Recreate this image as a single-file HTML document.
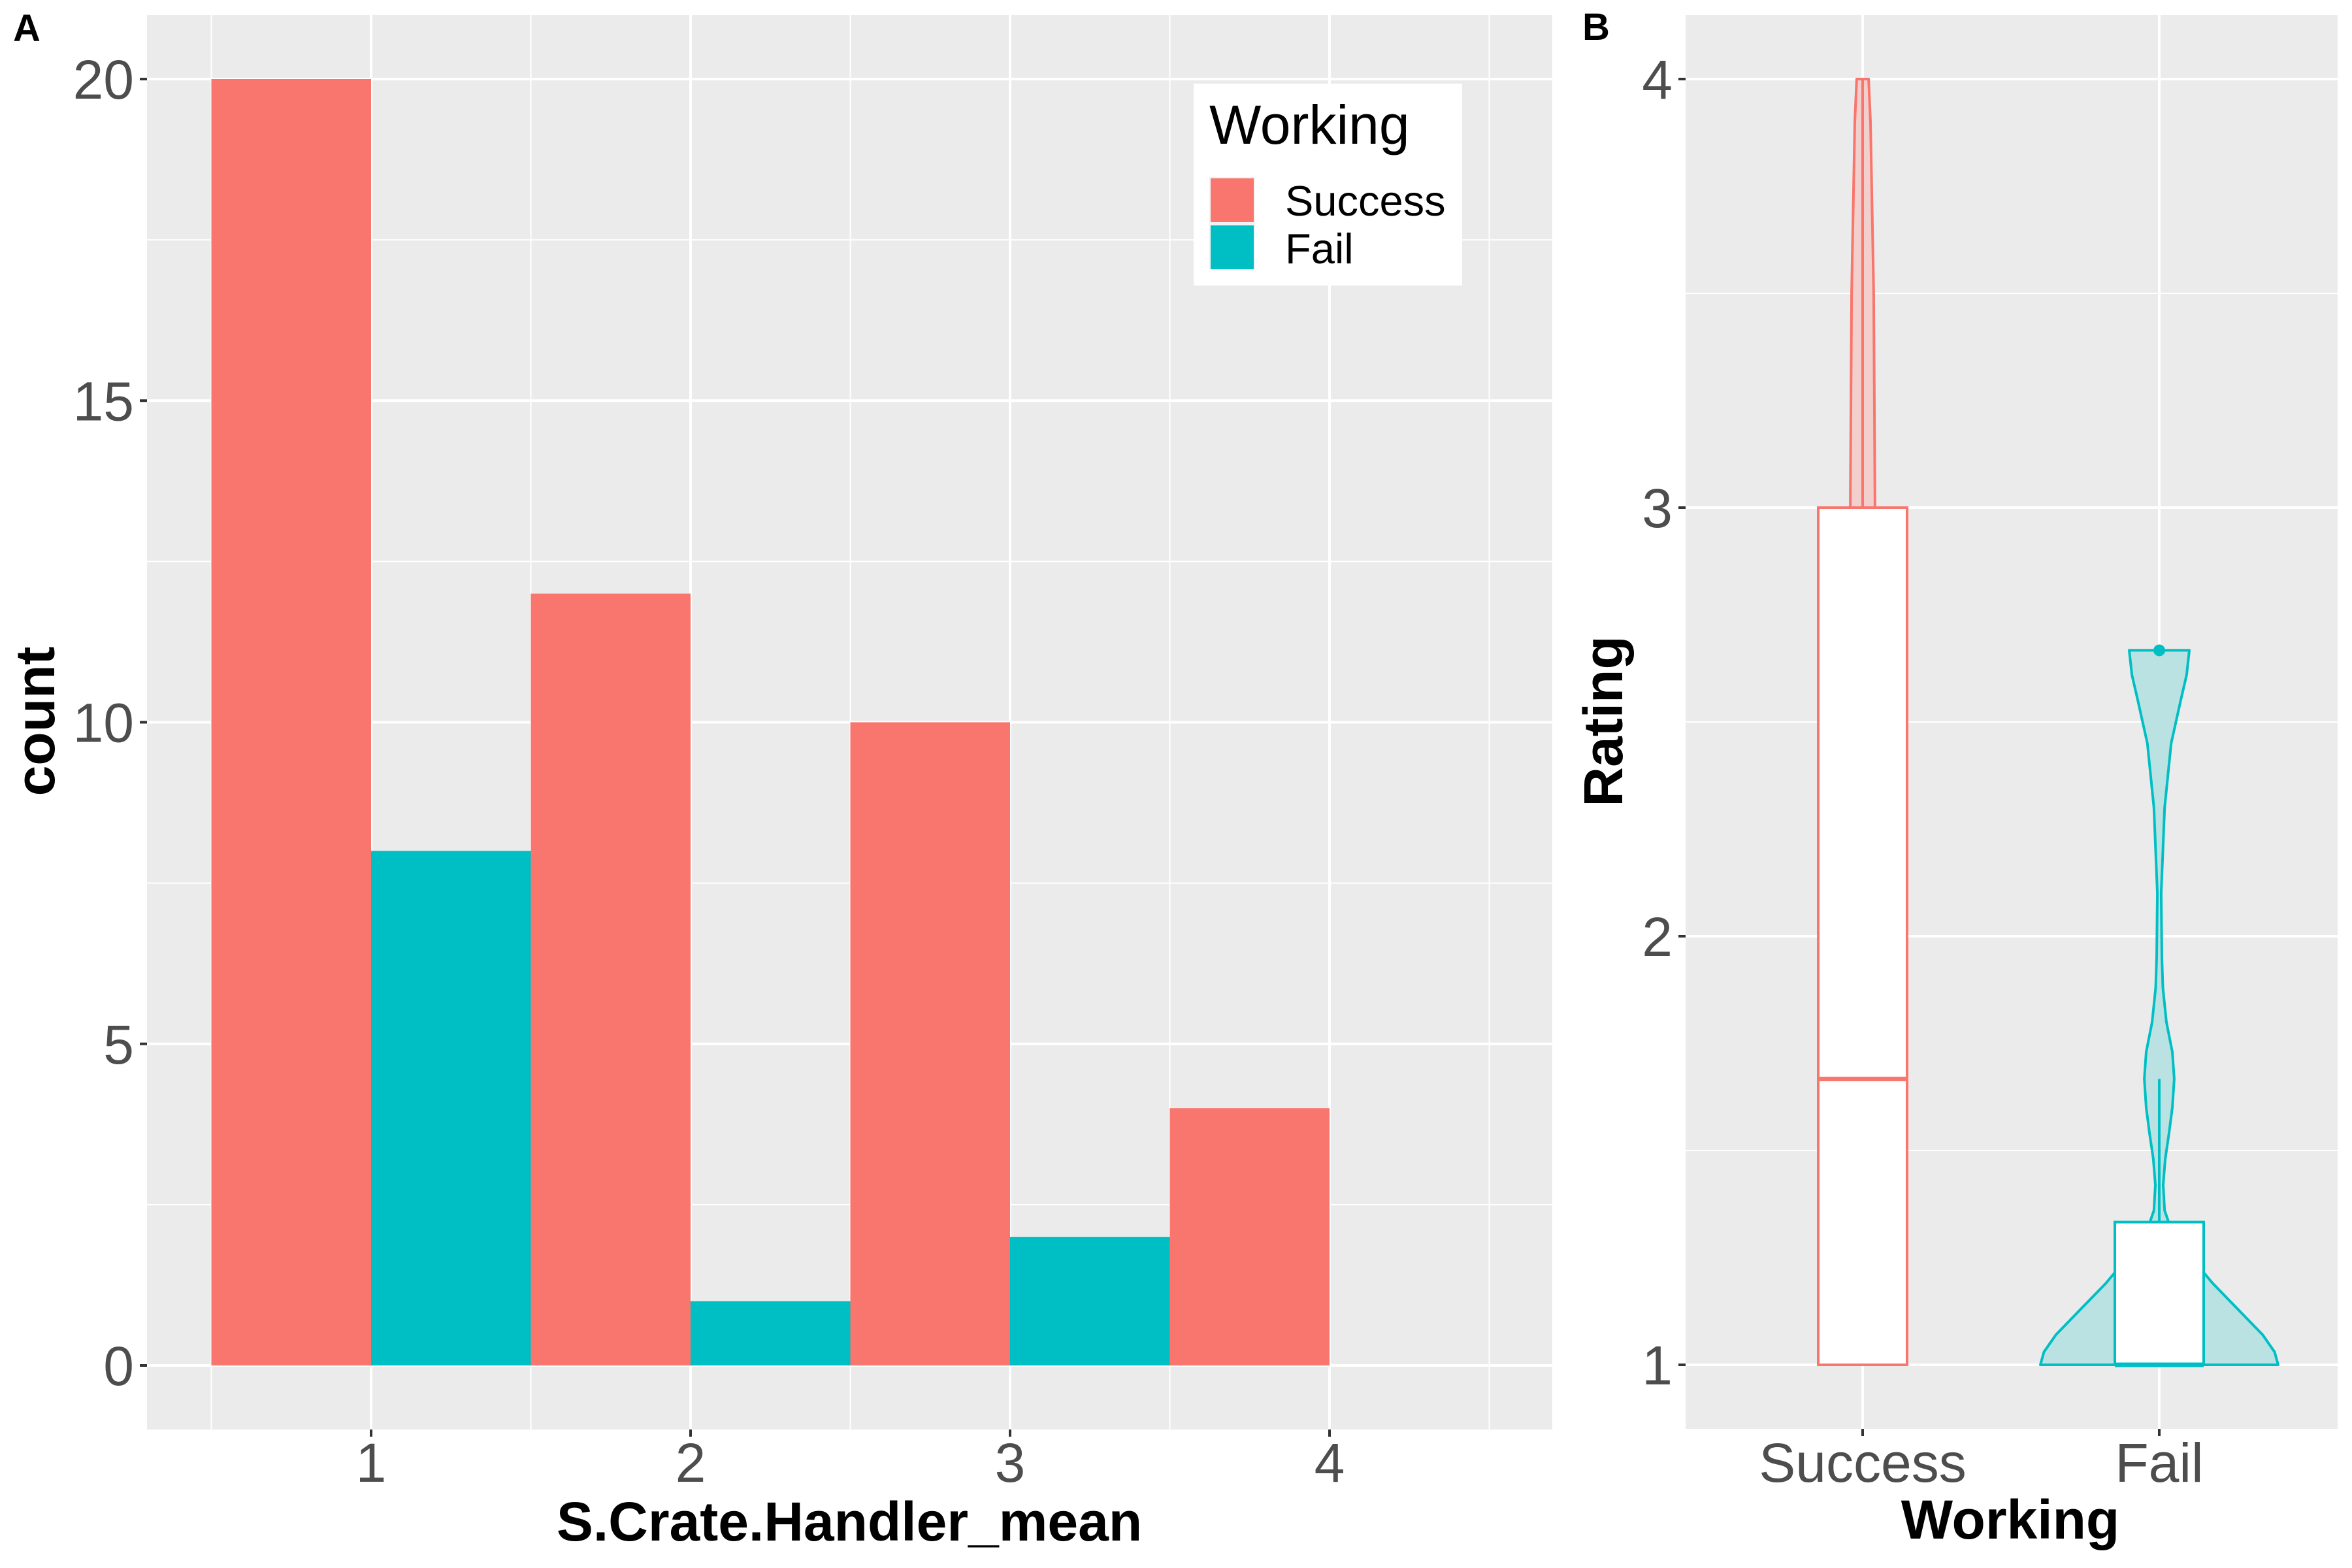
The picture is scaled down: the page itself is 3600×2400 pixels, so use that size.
<!DOCTYPE html>
<html><head><meta charset="utf-8"><style>
html,body{margin:0;padding:0;background:#fff;}
svg{display:block;font-family:"Liberation Sans",sans-serif;}
</style></head><body>
<svg id="fig" width="3600" height="2400" viewBox="0 0 3600 2400" xmlns="http://www.w3.org/2000/svg">
<g id="pa"></g>
<g id="pb"></g>
</svg>
<script>
// Panel A data
const bins = [1, 2, 3, 4];
const successCounts = [20, 12, 10, 4];
const failCounts = [8, 1, 2, 0];
const yTicksA = [0, 5, 10, 15, 20];
const xTicksA = [1, 2, 3, 4];
// Panel B data
const groups = ["Success", "Fail"];
const boxQ1 = [1, 1];
const boxMedian = [1.667, 1];
const boxQ3 = [3, 1.333];
const whiskLo = [1, 1];
const whiskHi = [4, 1.667];
const outliers = [[], [2.667]];
const violinSuccessY = [1, 1.5, 2, 2.5, 3, 3.5, 3.9, 4];
const violinSuccessD = [0.3, 0.35, 0.3, 0.2, 0.104, 0.093, 0.066, 0.05];
const violinFailY = [1, 1.03, 1.07, 1.13, 1.19, 1.25, 1.3, 1.36, 1.42, 1.48, 1.54, 1.6, 1.667, 1.73, 1.8, 1.88, 1.95, 2.1, 2.3, 2.45, 2.55, 2.61, 2.667];
const violinFailD = [1.0, 0.97, 0.87, 0.66, 0.45, 0.27, 0.12, 0.045, 0.033, 0.05, 0.082, 0.11, 0.126, 0.11, 0.06, 0.03, 0.022, 0.016, 0.045, 0.1, 0.18, 0.23, 0.253];
const yTicksB = [1, 2, 3, 4];

const NS = "http://www.w3.org/2000/svg";
function mk(parent, tag, attrs, text) {
  const e = document.createElementNS(NS, tag);
  for (const k in attrs) e.setAttribute(k, attrs[k]);
  if (text !== undefined) e.textContent = text;
  parent.appendChild(e);
  return e;
}
const RED = "#F8766D", TEAL = "#00BFC4";

// ---------- Panel A ----------
const pa = document.getElementById("pa");
const A = {l: 225, r: 2376, t: 23, b: 2188};
const xA = v => 568 + (v - 1) * 489;
const yA = v => 2090 - v * 98.45;
let e = mk(pa, "rect", {x: A.l, y: A.t, width: A.r - A.l, height: A.b - A.t, fill: "#EBEBEB"});


for (let v = 2.5; v < 21; v += 5) mk(pa, "line", {x1: A.l, x2: A.r, y1: yA(v), y2: yA(v), stroke: "#fff", "stroke-width": 2});
for (let v = 0.5; v < 4.7; v += 1) mk(pa, "line", {x1: xA(v), x2: xA(v), y1: A.t, y2: A.b, stroke: "#fff", "stroke-width": 2});
yTicksA.forEach(v => {
  mk(pa, "line", {x1: A.l, x2: A.r, y1: yA(v), y2: yA(v), stroke: "#fff", "stroke-width": 4});
  mk(pa, "line", {x1: A.l - 11, x2: A.l, y1: yA(v), y2: yA(v), stroke: "#333", "stroke-width": 4});
  const t = mk(pa, "text", {x: A.l - 20, y: yA(v) + 30, "text-anchor": "end", "font-size": 84, fill: "#4D4D4D"}, String(v));
  
  
});
xTicksA.forEach(v => {
  mk(pa, "line", {x1: xA(v), x2: xA(v), y1: A.t, y2: A.b, stroke: "#fff", "stroke-width": 4});
  mk(pa, "line", {x1: xA(v), x2: xA(v), y1: A.b, y2: A.b + 11, stroke: "#333", "stroke-width": 4});
  const t = mk(pa, "text", {x: xA(v), y: 2268, "text-anchor": "middle", "font-size": 84, fill: "#4D4D4D"}, String(v));
  
  
});
bins.forEach((b, i) => {
  const s = successCounts[i], f = failCounts[i];
  const r1 = mk(pa, "rect", {x: xA(b - 0.5), y: yA(s), width: xA(b) - xA(b - 0.5), height: yA(0) - yA(s), fill: RED});
  
  
  const r2 = mk(pa, "rect", {x: xA(b), y: yA(f), width: xA(b + 0.5) - xA(b), height: yA(0) - yA(f), fill: TEAL});
  
  
});
e = mk(pa, "text", {x: 1300, y: 2358, "text-anchor": "middle", "font-size": 84, "font-weight": "bold", fill: "#000"}, "S.Crate.Handler_mean");


e = mk(pa, "text", {x: 0, y: 0, transform: "translate(83,1104) rotate(-90)", "text-anchor": "middle", "font-size": 84, "font-weight": "bold", fill: "#000"}, "count");


e = mk(pa, "text", {x: 20, y: 63, "font-size": 58, "font-weight": "bold", fill: "#000"}, "A");


// legend
const lg = mk(pa, "g", {});


mk(lg, "rect", {x: 1827, y: 128, width: 411, height: 309, fill: "#fff"});
e = mk(lg, "text", {x: 1851, y: 220, "font-size": 84, fill: "#000"}, "Working");


mk(lg, "rect", {x: 1851, y: 271, width: 70, height: 143, fill: "#F2F2F2"});
e = mk(lg, "rect", {x: 1853, y: 273, width: 66, height: 67, fill: RED});


e = mk(lg, "rect", {x: 1853, y: 345, width: 66, height: 67, fill: TEAL});


e = mk(lg, "text", {x: 1967, y: 330, "font-size": 65, fill: "#000"}, "Success");


e = mk(lg, "text", {x: 1967, y: 403, "font-size": 65, fill: "#000"}, "Fail");



// ---------- Panel B ----------
const pb = document.getElementById("pb");
const B = {l: 2580, r: 3578, t: 23, b: 2187};
const xB = i => 2851 + i * 454;
const yB = v => 2089 - (v - 1) * 656;
e = mk(pb, "rect", {x: B.l, y: B.t, width: B.r - B.l, height: B.b - B.t, fill: "#EBEBEB"});


[1.5, 2.5, 3.5].forEach(v => mk(pb, "line", {x1: B.l, x2: B.r, y1: yB(v), y2: yB(v), stroke: "#fff", "stroke-width": 2}));
yTicksB.forEach(v => {
  mk(pb, "line", {x1: B.l, x2: B.r, y1: yB(v), y2: yB(v), stroke: "#fff", "stroke-width": 4});
  mk(pb, "line", {x1: B.l - 11, x2: B.l, y1: yB(v), y2: yB(v), stroke: "#333", "stroke-width": 4});
  const t = mk(pb, "text", {x: B.l - 20, y: yB(v) + 30, "text-anchor": "end", "font-size": 84, fill: "#4D4D4D"}, String(v));
  
  
});
groups.forEach((g, i) => {
  mk(pb, "line", {x1: xB(i), x2: xB(i), y1: B.t, y2: B.b, stroke: "#fff", "stroke-width": 4});
  mk(pb, "line", {x1: xB(i), x2: xB(i), y1: B.b, y2: B.b + 11, stroke: "#333", "stroke-width": 4});
  const t = mk(pb, "text", {x: xB(i), y: 2268, "text-anchor": "middle", "font-size": 84, fill: "#4D4D4D"}, g);
  
  
});
const DS = 182;
function violin(i, ys, ds, col, fill, name) {
  const cx = xB(i);
  let pts = [];
  ys.forEach((y, k) => pts.push((cx - ds[k] * DS).toFixed(1) + "," + yB(y).toFixed(1)));
  for (let k = ys.length - 1; k >= 0; k--) pts.push((cx + ds[k] * DS).toFixed(1) + "," + yB(ys[k]).toFixed(1));
  const p = mk(pb, "polygon", {points: pts.join(" "), fill: fill, stroke: col, "stroke-width": 4, "stroke-linejoin": "round"});
  
  
}
violin(0, violinSuccessY, violinSuccessD, RED, "#F2CFCC", "violin-success");
violin(1, violinFailY, violinFailD, TEAL, "#BBE2E3", "violin-fail");
[RED, TEAL].forEach((col, i) => {
  const cx = xB(i), hw = 68;
  const w = mk(pb, "line", {x1: cx, x2: cx, y1: yB(whiskHi[i]), y2: yB(whiskLo[i]), stroke: col, "stroke-width": 4});
  
  
  const b = mk(pb, "rect", {x: cx - hw, y: yB(boxQ3[i]), width: hw * 2, height: yB(boxQ1[i]) - yB(boxQ3[i]), fill: "#fff", stroke: col, "stroke-width": 4});
  
  
  const m = mk(pb, "line", {x1: cx - hw, x2: cx + hw, y1: yB(boxMedian[i]), y2: yB(boxMedian[i]), stroke: col, "stroke-width": 7});
  
  
  outliers[i].forEach(o => {
    const c = mk(pb, "circle", {cx: cx, cy: yB(o), r: 9, fill: col});
    
    
  });
});
e = mk(pb, "text", {x: 3077, y: 2355, "text-anchor": "middle", "font-size": 84, "font-weight": "bold", fill: "#000"}, "Working");


e = mk(pb, "text", {x: 0, y: 0, transform: "translate(2483,1104) rotate(-90)", "text-anchor": "middle", "font-size": 84, "font-weight": "bold", fill: "#000"}, "Rating");


e = mk(pb, "text", {x: 2422, y: 61, "font-size": 58, "font-weight": "bold", fill: "#000"}, "B");


</script>
</body></html>
